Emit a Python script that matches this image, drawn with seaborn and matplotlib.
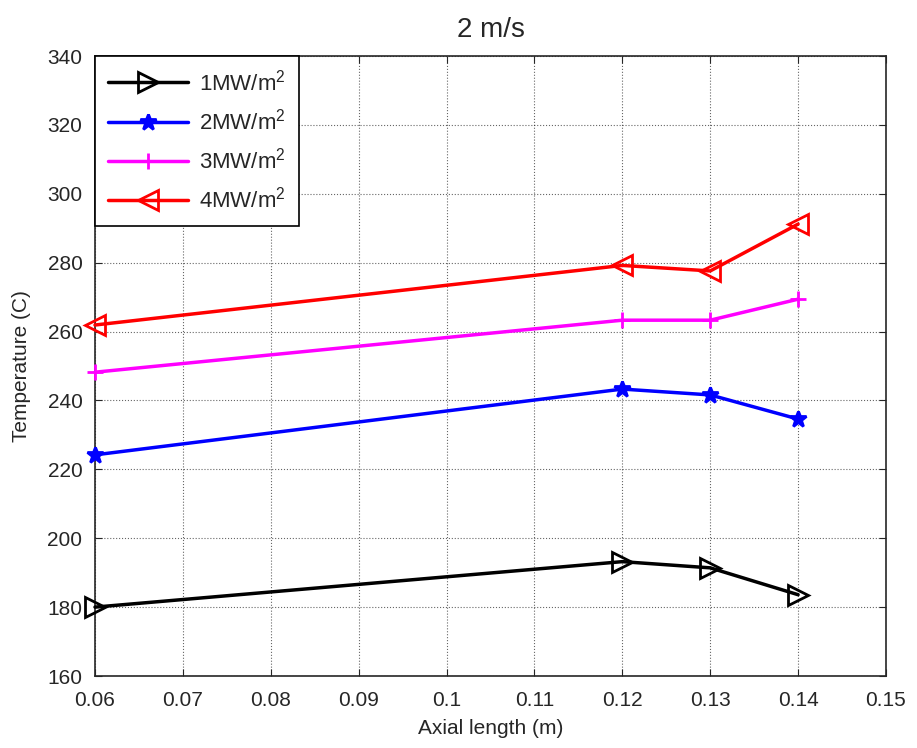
import matplotlib
matplotlib.use("Agg")
import matplotlib.pyplot as plt
import seaborn as sns
import pandas as pd

axial = [0.06, 0.12, 0.13, 0.14]
t_1mw = [180.0, 193.2, 191.4, 183.6]
t_2mw = [224.2, 243.3, 241.6, 234.6]
t_3mw = [248.2, 263.3, 263.3, 269.4]
t_4mw = [261.9, 279.2, 277.6, 291.2]
labels = ["1MW/m$^2$", "2MW/m$^2$", "3MW/m$^2$", "4MW/m$^2$"]

rows = []
for lab, vals in zip(labels, [t_1mw, t_2mw, t_3mw, t_4mw]):
    for x, v in zip(axial, vals):
        rows.append({"x": x, "T": v, "flux": lab})
df = pd.DataFrame(rows)

sns.set_style("ticks")
plt.rcParams['font.family'] = ['Liberation Sans', 'DejaVu Sans']
plt.rcParams['mathtext.fontset'] = 'custom'
plt.rcParams['mathtext.rm'] = 'Liberation Sans'

fig = plt.figure(figsize=(9.17, 7.48), dpi=100)
ax = fig.add_axes([95/917, 1 - 676/748, (886-95)/917, (676-56)/748])

colors = ["black", "blue", "magenta", "red"]
markers = [">", "*", "+", "<"]
fills = ["none", "blue", "magenta", "none"]
for lab, col, mk, fc in zip(labels, colors, markers, fills):
    sub = df[df["flux"] == lab]
    sns.lineplot(data=sub, x="x", y="T", ax=ax, color=col, marker=mk,
                 markersize=15 if mk in "<>" else 12, markerfacecolor=fc,
                 markeredgecolor=col, markeredgewidth=2, linewidth=2.5,
                 label=lab, clip_on=False, zorder=5)

ax.set_xlim(0.06, 0.15)
ax.set_ylim(160, 340)
ax.set_xticks([0.06, 0.07, 0.08, 0.09, 0.1, 0.11, 0.12, 0.13, 0.14, 0.15])
ax.set_xticklabels(["0.06", "0.07", "0.08", "0.09", "0.1", "0.11", "0.12", "0.13", "0.14", "0.15"])
ax.set_yticks(range(160, 341, 20))
ax.tick_params(labelsize=15, direction="in", length=5, top=True, right=True)
ax.tick_params(axis="x", pad=11)
ax.tick_params(axis="y", pad=9)
ax.grid(True, color="black", linestyle=":", linewidth=0.8, alpha=0.6)
for s in ax.spines.values():
    s.set_linewidth(1.2)
ax.set_xlabel("Axial length (m)", fontsize=15, labelpad=6)
ax.set_ylabel("Temperature (C)", fontsize=15, labelpad=12)
ax.set_title("2 m/s", fontsize=20, pad=14)

leg = ax.legend(loc="upper left", fontsize=16, fancybox=False, framealpha=1,
                edgecolor="black", borderaxespad=0, handlelength=3.6,
                labelspacing=0.6, borderpad=0.6, handletextpad=0.5)
leg.get_frame().set_linewidth(1.2)
leg.set_zorder(10)

fig.savefig("out.png", dpi=100)
